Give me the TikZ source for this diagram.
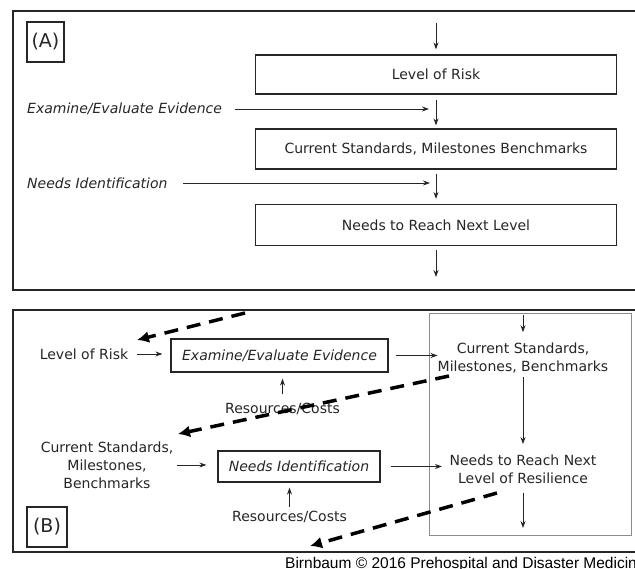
\documentclass[tikz,border=0pt]{standalone}
\usepackage{fontspec}
\setmainfont{DejaVu Sans}
\newfontfamily\capfont{Liberation Sans}
\usetikzlibrary{arrows.meta,calc}
\definecolor{ink}{HTML}{262626}
\definecolor{greyline}{HTML}{8C8C8C}
\begin{document}
\begin{tikzpicture}[x=1pt,y=-1pt,
  every node/.style={font=\fontsize{14}{18}\selectfont, text=ink},
  boxA/.style={draw=ink, line width=1.2pt, minimum width=361pt, inner sep=0pt},
  boxB/.style={draw=ink, line width=1.2pt, inner sep=0pt},
  plain/.style={inner sep=0pt, align=center},
  lab/.style={draw=ink, line width=1.2pt, inner sep=0pt, font=\fontsize{19}{19}\selectfont},
  arr/.style={draw=ink, line width=0.9pt, -{Stealth[length=7pt,width=5pt]}},
  dasharr/.style={draw=black, line width=3.5pt, dash pattern=on 14pt off 9pt, -{Latex[length=12pt,width=12pt]}},
  panel/.style={draw=ink, line width=1.4pt}]

\useasboundingbox (0,0) rectangle (635,569);
\fill[white] (0,0) rectangle (635,569);

% ---------------- Panel A ----------------
\draw[panel] (13,11) rectangle (650,290);
\node[lab, minimum width=37pt, minimum height=40pt] (labA) at (45.5,42) {(A)};

\node[boxA, minimum height=39pt] (lrA) at (436,74.5) {Level of Risk};
\node[boxA, minimum height=40pt] (csA) at (436,149) {Current Standards, Milestones Benchmarks};
\node[boxA, minimum height=41pt] (nrA) at (436,225) {Needs to Reach Next Level};

\coordinate (topA) at (436,23);
\coordinate (botA) at (436,277);
\draw[arr, shorten >=5pt] (topA) -- (lrA);
\draw[arr, shorten <=5pt, shorten >=3pt] (lrA) -- (csA);
\draw[arr, shorten <=4pt, shorten >=5pt] (csA) -- (nrA);
\draw[arr, shorten <=4pt] (nrA.south) -- (botA);

\node[plain, anchor=west, font=\itshape\fontsize{14}{18}\selectfont] (exA) at (27,109) {Examine/Evaluate Evidence};
\node[plain, anchor=west, font=\itshape\fontsize{14}{18}\selectfont] (niA) at (27,183) {Needs Identification};
\coordinate (exAe) at (429,109);
\coordinate (niAe) at (430,183);
\draw[arr, shorten <=13pt] (exA.east) -- (exAe);
\draw[arr, shorten <=15pt] (niA.east) -- (niAe);

% ---------------- Panel B ----------------
\draw[panel] (13,310) rectangle (650,552);
\node[lab, minimum width=40pt, minimum height=40pt] (labB) at (47,527) {(B)};

\node[draw=greyline, line width=0.8pt, minimum width=202pt, minimum height=222pt, inner sep=0pt] (rb) at (530,424) {};

\node[plain] (lrB) at (84,354) {Level of Risk};
\node[boxB, minimum width=217pt, minimum height=33pt, font=\itshape\fontsize{14}{18}\selectfont] (exB) at (279.5,355.5) {Examine/Evaluate Evidence};
\node[plain] (rc1) at (282.5,408.6) {Resources/Costs};

\node[plain] (csL) at (107,465) {Current Standards,\\Milestones,\\Benchmarks};
\node[boxB, minimum width=162pt, minimum height=31pt, font=\itshape\fontsize{14}{18}\selectfont] (niB) at (299,466.5) {Needs Identification};
\node[plain] (rc2) at (289.5,516.6) {Resources/Costs};

\node[plain] (csB) at (523,357.5) {Current Standards,\\Milestones, Benchmarks};
\node[plain] (nrB) at (523,469.7) {Needs to Reach Next\\Level of Resilience};

\coordinate (topB) at (523,315);
\coordinate (botB) at (523,528);

\draw[arr, shorten <=9pt, shorten >=8pt] (lrB.east) -- (lrB.east -| exB.west);
\draw[arr, shorten <=9pt, shorten >=6pt] (rc1.north) -- (rc1.north |- exB.south);
\draw[arr, shorten <=7pt] (exB.east) -- (exB.east -| csB.west);
\draw[arr, shorten <=3.5pt, shorten >=11pt] (csL.east) -- (csL.east -| niB.west);
\draw[arr, shorten <=4pt, shorten >=5pt] (rc2.north) -- (rc2.north |- niB.south);
\draw[arr, shorten <=10pt, shorten >=7.5pt] (niB.east) -- (niB.east -| nrB.west);

\draw[arr, shorten >=10pt] (topB) -- (csB.north);
\draw[arr, shorten <=4.5pt, shorten >=11pt] (csB.south) -- (nrB.north);
\draw[arr, shorten <=9pt] (nrB.south) -- (botB);

\coordinate (d1a) at (245,313);
\coordinate (d1b) at (137,340);
\coordinate (d2a) at (449,376);
\coordinate (d2b) at (178,434);
\coordinate (d3a) at (497,493);
\coordinate (d3b) at (310,546);
\draw[dasharr] (d1a) -- (d1b);
\draw[dasharr] (d2a) -- (d2b);
\draw[dasharr] (d3a) -- (d3b);

\node[inner sep=0pt, anchor=base west, text=black, font=\capfont\fontsize{15.5}{16}\selectfont] (cr) at (285,568) {Birnbaum © 2016 Prehospital and Disaster Medicine};
\end{tikzpicture}
\end{document}
